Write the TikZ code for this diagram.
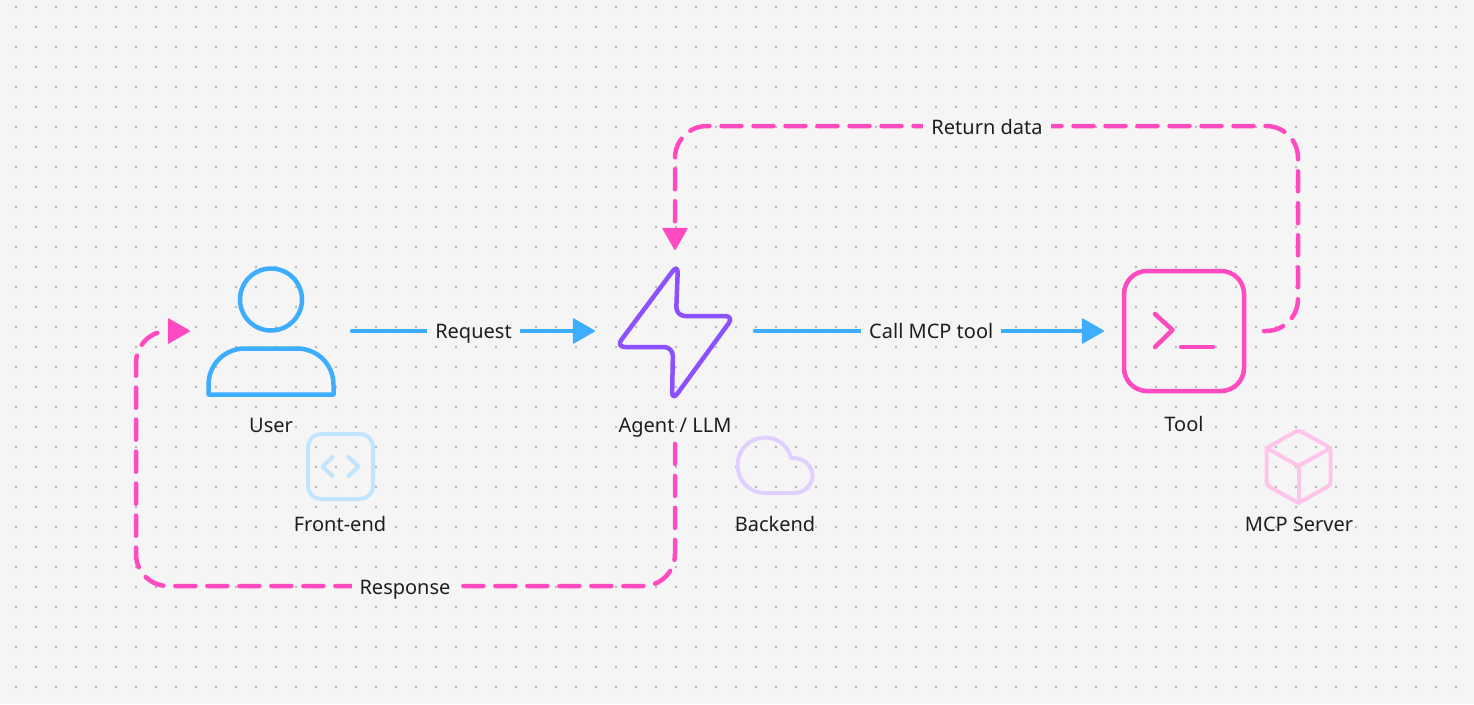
\documentclass[tikz,border=0pt]{standalone}
\usepackage{fontspec}
\setmainfont{Noto Sans}
\usetikzlibrary{
  arrows.meta,
  positioning,  % Function "of" (e.g. [right=of x])
}
\definecolor{mybg}{HTML}{F5F5F5}
\definecolor{mydot}{HTML}{B3B3B3}
\definecolor{myblue}{HTML}{3DADFF}
\definecolor{mypurple}{HTML}{8C50FF}
\definecolor{mypink}{HTML}{FF4AC0}
\definecolor{mylightblue}{HTML}{C2E5FF}
\definecolor{mylightpurple}{HTML}{DFD0FF}
\definecolor{mylightpink}{HTML}{FFC4EA}
\definecolor{mytext}{HTML}{1E1E1E}
\def\myfontsize{\fontsize{20}{24}\selectfont}
\tikzset{
  x=1pt,
  y=-1pt,
  font=\myfontsize,
  my tip/.style={
    -{Triangle[length=23pt,width=26pt,line width=1.5pt,round]}
  },
  my flow/.style={
    color=myblue,
    line width=4.5pt,
    line cap=round,
    my tip
  },
  my return/.style={
    color=mypink,
    line width=4.5pt,
    line cap=round,
    rounded corners=32pt,
    dash pattern=on 20pt off 12pt,
    my tip
  },
  my label/.style={
    text=mytext,
    inner xsep=0pt,
    inner ysep=7pt,
    text height=13pt,
    text depth=4.5pt
  },
  my edge label/.style={
    text=mytext,
    fill=mybg,
    inner xsep=8pt,
    inner ysep=2pt,
    text height=15pt,
    text depth=1pt
  },
  my box/.style={
    minimum width=#1,
    minimum height=162pt,
    inner sep=0pt,
    outer sep=0pt
  },
  my line/.style={
    line width=4.5pt,
    line cap=round,
    line join=round
  },
  my faint/.style={
    line width=4pt,
    line cap=round,
    line join=round
  }
}
\begin{document}
\begin{tikzpicture}
\useasboundingbox (0,0) rectangle (1474,704);
\fill[mybg] (0,0) rectangle (1474,704);
\foreach \i in {0,...,72}
  \foreach \j in {0,...,34}
    \fill[mydot] (16+20*\i,7+20*\j) circle[radius=1.3pt];

% Main row
\node[my box=162pt] (user) at (271,331) {};
\node[my box=160pt] (agent) [right=243pt of user] {};
\node[draw=mypink,line width=4.5pt,minimum size=120pt,inner sep=0pt,outer sep=20pt,
  rounded corners=23pt] (tool) [right=349pt of agent] {};
\node[my label] (userlabel) [below=0pt of user] {User};
\node[my label] (agentlabel) [below=0pt of agent] {Agent / LLM};
\node[my label] (toollabel) [below=0pt of tool] {Tool};

% Icons
\begin{scope}[shift={(user)},my line]
\draw[myblue] (0,-31.5) circle[radius=31pt];
\draw[myblue] (-62.5,63.5) -- (-62.5,54)
  .. controls (-62.5,33) and (-46,17.5) .. (-26,17.5) -- (26,17.5)
  .. controls (46,17.5) and (62.5,33) .. (62.5,54) -- (62.5,63.5) -- cycle;
\end{scope}
\begin{scope}[shift={(agent)},my line]
\draw[mypurple,rounded corners=9pt] (3,-67) -- (1,-15) -- (59,-15) -- (-3,70) -- (-2,16)
  -- (-59,16) -- cycle;
\end{scope}
\begin{scope}[shift={(tool)},my line]
\draw[mypink] (-29,-17) -- (-11.5,-1) -- (-29,16);
\draw[mypink] (-3,16) -- (29,16);
\end{scope}

% Second row
\node[draw=mylightblue,line width=4pt,minimum size=65pt,inner sep=0pt,
  rounded corners=13pt] (frontend) at (340.5,466.5) {};
\node[minimum width=76pt,minimum height=58pt,inner sep=0pt] (backend) at (775,465.5) {};
\node[minimum width=64pt,minimum height=74pt,inner sep=0pt] (server) at (1298.5,466) {};
\node[my label] (frontendlabel) at (340,527) {Front-end};
\node[my label] (backendlabel) at (775,527) {Backend};
\node[my label] (serverlabel) at (1299,527) {MCP Server};
\begin{scope}[shift={(frontend)},my faint]
\draw[mylightblue] (-8,-9.5) -- (-18,0) -- (-8,9.5);
\draw[mylightblue] (8,-9.5) -- (18,0) -- (8,9.5);
\end{scope}
\begin{scope}[shift={(backend)},my faint]
\draw[mylightpurple] (-10,27.5) .. controls (-25,27.5) and (-37.5,15.5) .. (-37.5,-0.5)
  .. controls (-37.5,-15.5) and (-25,-28) .. (-10,-28)
  .. controls (3,-28) and (13,-19.5) .. (16,-7.5)
  .. controls (28,-8.5) and (37.5,0.5) .. (37.5,10)
  .. controls (37.5,19.5) and (29,27.5) .. (19,27.5) -- cycle;
\end{scope}
\begin{scope}[shift={(server)},my faint]
\draw[mylightpink,rounded corners=3pt] (0,-36) -- (32,-18) -- (32,19) -- (0,37) -- (-32,19)
  -- (-32,-18) -- cycle;
\draw[mylightpink] (-32,-18) -- (0,0) -- (32,-18);
\draw[mylightpink] (0,0) -- (0,37);
\end{scope}

% Connectors
\coordinate (returncorner) at (1298,126);
\coordinate (responsecorner) at (136,586);
\path[my flow]
(user) edge node[my edge label]{Request} (agent)
(agent) edge node[my edge label,pos=0.505]{Call MCP tool} (tool);
\draw[my return] (tool.east) -| (returncorner) -| (agent.north);
\draw[my return] (agentlabel.south) |- (responsecorner) |- (user.west);
\node[my edge label] (returnlabel) at (987,127) {Return data};
\node[my edge label] (responselabel) at (405,587) {Response};
\end{tikzpicture}
\end{document}
